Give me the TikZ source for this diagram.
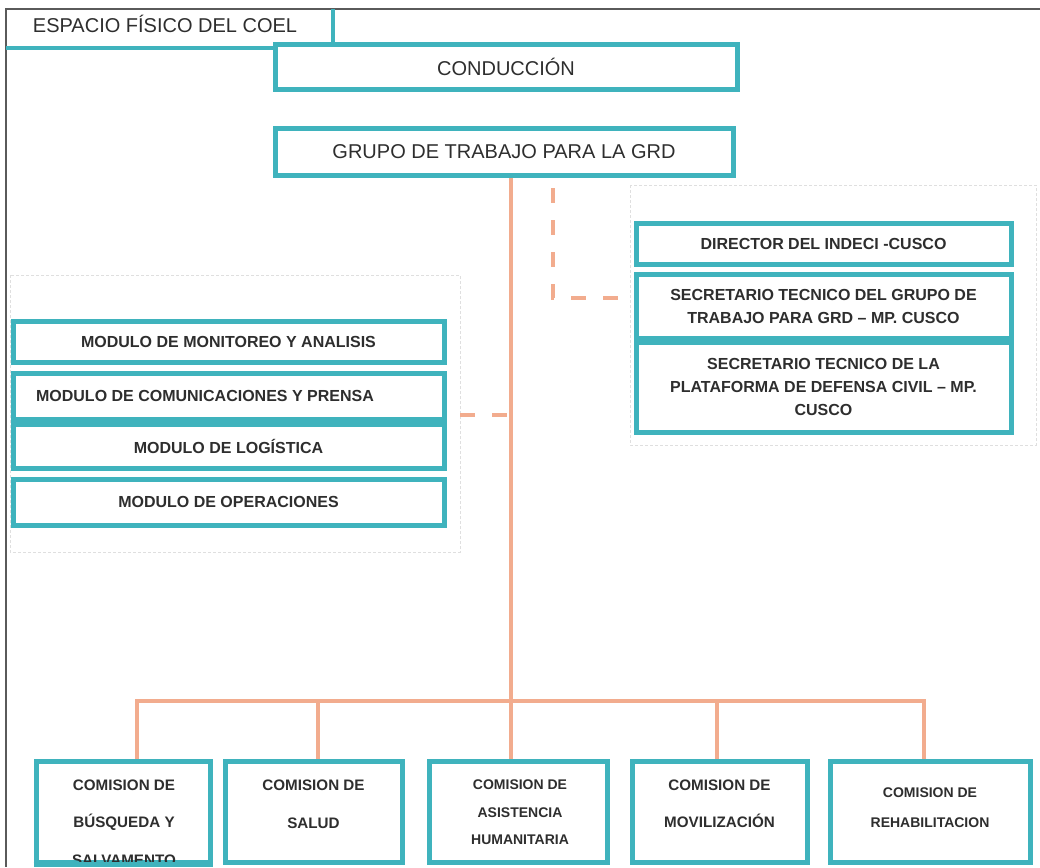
\documentclass[tikz,border=0pt]{standalone}
\usepackage{fontspec}
\setmainfont{Liberation Sans}
\definecolor{teal1}{HTML}{3FB3BD}
\definecolor{sal}{HTML}{F2AC8E}
\definecolor{ink}{HTML}{2E2E2E}
\definecolor{outer}{HTML}{5A5A5A}
\begin{document}
\begin{tikzpicture}[x=1pt,y=-1pt,
  box/.style={draw=teal1, line width=5pt, fill=white, inner sep=0pt, text=ink, align=center},
  bigtxt/.style={font=\fontsize{20}{24}\selectfont},
  bt/.style={font=\bfseries\fontsize{16}{23}\selectfont},
  lbl/.style={text=ink, inner sep=0pt, align=center},
  conn/.style={draw=sal, line width=4pt},
  dconn/.style={draw=sal, line width=4pt, dash pattern=on 15pt off 17pt},
  grpframe/.style={draw=gray!25, line width=0.8pt, dash pattern=on 3pt off 2pt},
  tabline/.style={draw=teal1, line width=3.5pt},
  outline/.style={draw=outer, line width=1.3pt}]
\useasboundingbox[fill=white] (0,0) rectangle (1040,867);

% outer frame
\draw[outline] (1040,9) -- (6,9) -- (6,867);

% group frames
\draw[grpframe] (630,185) rectangle (1036,445);
\draw[grpframe] (10,275) rectangle (460,552);

% coordinates for connectors
\coordinate (trunk) at (511,701);
\coordinate (d1) at (137,701);
\coordinate (d2) at (318,701);
\coordinate (d4) at (717,701);
\coordinate (d5) at (924,701);
\coordinate (dtop) at (553,188);
\coordinate (dcorner) at (553,298);
\coordinate (dright) at (630,298);
\coordinate (lstart) at (460,415);
\coordinate (ljoin) at (511,415);

% title tab
\node[lbl, bigtxt, anchor=base] (coel) at (165,33) {ESPACIO FÍSICO DEL COEL};
\draw[tabline] (333,9) -- (333,46);
\draw[tabline] (6,48) -- (276,48);

% boxes
\node[box, bigtxt, minimum width=462pt, minimum height=44pt] (cond) at (506,67) {CONDUCCIÓN};
\node[box, bigtxt, minimum width=458pt, minimum height=47pt] (grupo) at (504,151.5) {GRUPO DE TRABAJO PARA LA GRD};

% connectors
\draw[conn] (grupo.south -| trunk) -- (trunk);
\draw[conn, line join=miter] (d1 |- 0,761) -- (d1) -- (d5) -- (d5 |- 0,761);
\draw[conn] (d2) -- (d2 |- 0,761);
\draw[conn] (trunk) -- (trunk |- 0,761);
\draw[conn] (d4) -- (d4 |- 0,761);
\draw[dconn] (dtop) -- (dcorner) -- (dright);
\draw[dconn] (lstart) -- (ljoin);

% right group
\node[box, bt, minimum width=375pt, minimum height=41pt] (dir) at (823.5,243.5) {DIRECTOR DEL INDECI -CUSCO};
\node[box, bt, minimum width=375pt, minimum height=64pt] (sec1) at (823.5,306) {SECRETARIO TECNICO DEL GRUPO DE\\TRABAJO PARA GRD – MP. CUSCO};
\node[box, bt, minimum width=375pt, minimum height=90pt] (sec2) at (823.5,387) {SECRETARIO TECNICO DE LA\\PLATAFORMA DE DEFENSA CIVIL – MP.\\CUSCO};

% left group
\node[box, bt, minimum width=431pt, minimum height=41pt] (mod1) at (228.5,341.5) {MODULO DE MONITOREO Y ANALISIS};
\node[box, bt, minimum width=431pt, minimum height=46pt] (mod2) at (228.5,396) {};
\node[lbl, bt] (mod2t) at (205,396) {MODULO DE COMUNICACIONES Y PRENSA};
\node[box, bt, minimum width=431pt, minimum height=44pt] (mod3) at (228.5,446) {MODULO DE LOGÍSTICA};
\node[box, bt, minimum width=431pt, minimum height=46pt] (mod4) at (228.5,502) {MODULO DE OPERACIONES};

% bottom commissions
\node[box, minimum width=174pt, minimum height=101pt] (b1) at (123,811.5) {};
\node[box, minimum width=177pt, minimum height=101pt] (b2) at (313.5,811.5) {};
\node[box, minimum width=178pt, minimum height=101pt] (b3) at (518,811.5) {};
\node[box, minimum width=175pt, minimum height=101pt] (b4) at (719.5,811.5) {};
\node[box, minimum width=200pt, minimum height=101pt] (b5) at (930,811.5) {};

\node[lbl, font=\bfseries\fontsize{15.2}{37.5}\selectfont, anchor=north] (t1) at (124,779.5) {COMISION DE\\BÚSQUEDA Y\\SALVAMENTO};
\node[lbl, font=\bfseries\fontsize{15.2}{38}\selectfont, anchor=north] (t2) at (313.5,779.5) {COMISION DE\\SALUD};
\node[lbl, font=\bfseries\fontsize{14}{27.5}\selectfont, anchor=north] (t3) at (520,780) {COMISION DE\\ASISTENCIA\\HUMANITARIA};
\node[lbl, font=\bfseries\fontsize{15.2}{37}\selectfont, anchor=north] (t4) at (719.5,779.5) {COMISION DE\\MOVILIZACIÓN};
\node[lbl, font=\bfseries\fontsize{14}{30}\selectfont, anchor=north] (t5) at (930,788) {COMISION DE\\REHABILITACION};

% redraw bottom borders over clipped text
\draw[draw=teal1, line width=5pt] (b1.south west) -- (b1.south east);
\end{tikzpicture}
\end{document}
